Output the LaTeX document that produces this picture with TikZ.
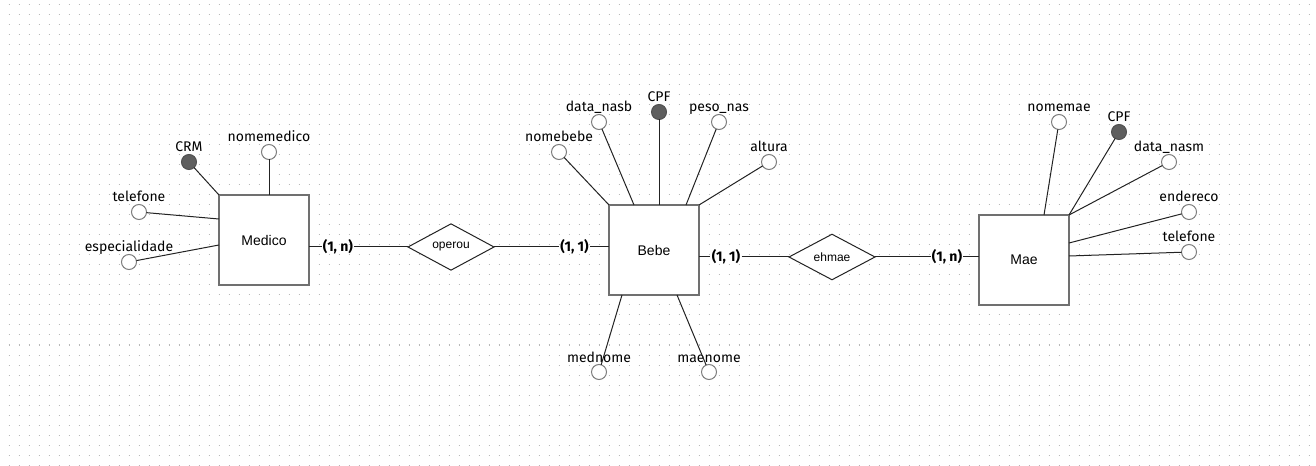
\documentclass[tikz,border=0pt]{standalone}
\usepackage{fontspec}
\setmainfont{Fira Sans}
\newfontfamily\arialf{Liberation Sans}
\usetikzlibrary{shapes.geometric,calc}
\definecolor{dotc}{RGB}{185,185,185}
\definecolor{boxc}{RGB}{112,112,112}
\definecolor{circc}{RGB}{125,125,125}
\definecolor{keyc}{RGB}{95,95,95}
\definecolor{linec}{RGB}{35,35,35}
\begin{document}
\begin{tikzpicture}[x=0.75pt,y=-0.75pt,
  entity/.style={draw=boxc, line width=1.5pt, fill=white, minimum width=67.5pt, minimum height=67.5pt, inner sep=0pt, outer sep=0pt, font=\arialf\fontsize{10.5}{12}\selectfont},
  relation/.style={diamond, draw=linec, line width=0.75pt, fill=white, minimum width=64.5pt, minimum height=33pt, inner sep=0pt, outer sep=0pt, font=\arialf\fontsize{9}{11}\selectfont},
  attr/.style={circle, draw=circc, line width=0.75pt, fill=white, minimum size=11.25pt, inner sep=0pt, outer sep=0pt},
  keyattr/.style={attr, fill=keyc, draw=keyc!85!black},
  attrlabel/.style={anchor=base, inner sep=0pt, font=\fontsize{10.5}{12}\selectfont},
  card/.style={inner sep=0.75pt, font=\bfseries\fontsize{10.5}{12}\selectfont},
  conn/.style={draw=linec, line width=0.75pt}]
\useasboundingbox[fill=white] (0,0) rectangle (1316,466);
% dotted grid
\foreach \j in {0,...,46}
  \draw[dotc, line width=0.75pt, dash pattern=on 0.75pt off 6.75pt] (8.5,5+10*\j) -- (1316,5+10*\j);

% entities
\node[entity] (medico) at (264,240) {Medico};
\node[entity] (bebe) at (654,250) {Bebe};
\node[entity] (mae) at (1024,260) {Mae};

% relationships
\node[relation] (operou) at (451,247) {operou};
\node[relation] (ehmae) at (832,257) {ehmae};

% cardinalities
\node[card] (c1) at (338,247) {(1, n)};
\node[card] (c2) at (574.5,247) {(1, 1)};
\node[card] (c3) at (726,257) {(1, 1)};
\node[card] (c4) at (947,257) {(1, n)};

% Medico attributes
\node[keyattr] (crm) at (189,162) {};
\node[attrlabel] (crml) at (189,152) {CRM};
\node[attr] (nomemedico) at (269,152) {};
\node[attrlabel] (nomemedicol) at (269,142) {nomemedico};
\node[attr] (telmed) at (139,212) {};
\node[attrlabel] (telmedl) at (139,202) {telefone};
\node[attr] (espec) at (129,262) {};
\node[attrlabel] (especl) at (129,252) {especialidade};

% Bebe attributes
\node[attr] (nomebebe) at (559,152) {};
\node[attrlabel] (nomebebel) at (559,142) {nomebebe};
\node[attr] (datanasb) at (599,122) {};
\node[attrlabel] (datanasbl) at (599,112) {data\_nasb};
\node[keyattr] (cpfb) at (659,112) {};
\node[attrlabel] (cpfbl) at (659,102) {CPF};
\node[attr] (pesonas) at (719,122) {};
\node[attrlabel] (pesonasl) at (719,112) {peso\_nas};
\node[attr] (altura) at (769,162) {};
\node[attrlabel] (altural) at (769,152) {altura};
\node[attr] (mednome) at (599,372) {};
\node[attrlabel] (mednomel) at (599,362) {mednome};
\node[attr] (maenome) at (709,372) {};
\node[attrlabel] (maenomel) at (709,362) {maenome};

% Mae attributes
\node[attr] (nomemae) at (1059,122) {};
\node[attrlabel] (nomemael) at (1059,112) {nomemae};
\node[keyattr] (cpfm) at (1119,132) {};
\node[attrlabel] (cpfml) at (1119,122) {CPF};
\node[attr] (datanasm) at (1169,162) {};
\node[attrlabel] (datanasml) at (1169,152) {data\_nasm};
\node[attr] (endereco) at (1189,212) {};
\node[attrlabel] (enderecol) at (1189,202) {endereco};
\node[attr] (telmae) at (1189,252) {};
\node[attrlabel] (telmael) at (1189,242) {telefone};

% relationship connectors
\draw[conn] ($(medico.north east)+(0,52)$) -- (c1.west);
\draw[conn] (c1.east) -- (operou.west);
\draw[conn] (operou.east) -- (c2.west);
\draw[conn] (c2.east) -- ($(bebe.north west)+(0,42)$);
\draw[conn] ($(bebe.north east)+(0,52)$) -- (c3.west);
\draw[conn] (c3.east) -- (ehmae.west);
\draw[conn] (ehmae.east) -- (c4.west);
\draw[conn] (c4.east) -- ($(mae.north west)+(0,42)$);

% attribute connectors: Medico
\draw[conn] (crm) -- (medico.north west);
\draw[conn] (nomemedico) -- ($(medico.north west)+(50,0)$);
\draw[conn] (telmed) -- ($(medico.north west)+(0,24)$);
\draw[conn] (espec) -- ($(medico.north west)+(0,50)$);

% attribute connectors: Bebe
\draw[conn] (nomebebe) -- (bebe.north west);
\draw[conn] (datanasb) -- ($(bebe.north west)+(25,0)$);
\draw[conn] (cpfb) -- ($(bebe.north west)+(50,0)$);
\draw[conn] (pesonas) -- ($(bebe.north west)+(77,0)$);
\draw[conn] (altura) -- (bebe.north east);
\draw[conn] (mednome) -- ($(bebe.south west)+(13,0)$);
\draw[conn] (maenome) -- ($(bebe.south west)+(68,0)$);

% attribute connectors: Mae
\draw[conn] (nomemae) -- ($(mae.north west)+(65,0)$);
\draw[conn] (cpfm) -- (mae.north east);
\draw[conn] (datanasm) -- (mae.north east);
\draw[conn] (endereco) -- ($(mae.north east)+(0,28)$);
\draw[conn] (telmae) -- ($(mae.north east)+(0,41)$);
\end{tikzpicture}
\end{document}
